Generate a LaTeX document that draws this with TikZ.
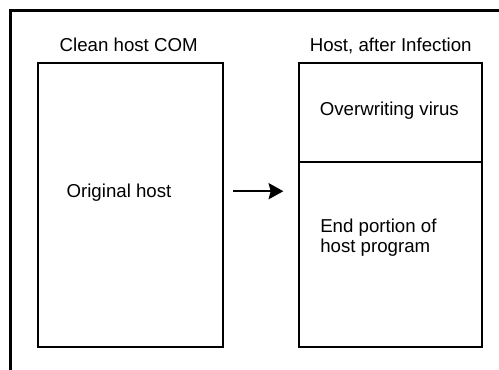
\documentclass[tikz,border=0pt]{standalone}
\usepackage{fontspec}
\setmainfont{Liberation Sans}
\usetikzlibrary{arrows, arrows.meta, calc, positioning}
\newcommand{\drawe}{\draw[line width=1.8pt]}
\tikzset{hostbox/.style={draw, line width=1.8pt, inner sep=0pt, anchor=north west}}

\begin{document}
\begin{tikzpicture}[x=0.75pt, y=-0.75pt, >={Stealth[length=11pt, width=12pt, inset=1.5pt]}, font=\fontsize{14}{15}\selectfont]
\useasboundingbox (0,0) rectangle (499,370);
% Khung ngoai
\drawe (10.5,370) -- (10.5,10.5) -- (499,10.5);
% Chuong trinh sach
\node[hostbox, minimum width=138.75pt, minimum height=213pt] (clean) at (37,62) {};
\node[above=8pt of clean.north, anchor=base, xshift=-1.5pt] (cleantitle) {Clean host COM};
\node[right=22pt of clean.west, yshift=5.5pt, anchor=base west, inner sep=0pt] (orig) {Original host};
% Chuong trinh bi nhiem
\node[hostbox, minimum width=137.25pt, minimum height=74.25pt] (virus) at (298,62) {};
\node[hostbox, minimum width=137.25pt, minimum height=138.75pt, below=-1.8pt of virus] (rest) {};
\node[above=8pt of virus.north, anchor=base] (infecttitle) {Host, after Infection};
\node[inner sep=0pt, xshift=-1pt, yshift=1.5pt] (virustext) at (virus) {Overwriting virus};
\node[below right=43pt and 16.5pt of rest.north west, align=left, inner sep=0pt] (endtext) {End portion of\\host program};
% Mui ten
\coordinate (mid) at ($(clean.east)+(0,-14)$);
\drawe[->, shorten <=6.5pt, shorten >=11pt] (mid) -- (rest.west |- mid);
\end{tikzpicture}
\end{document}
